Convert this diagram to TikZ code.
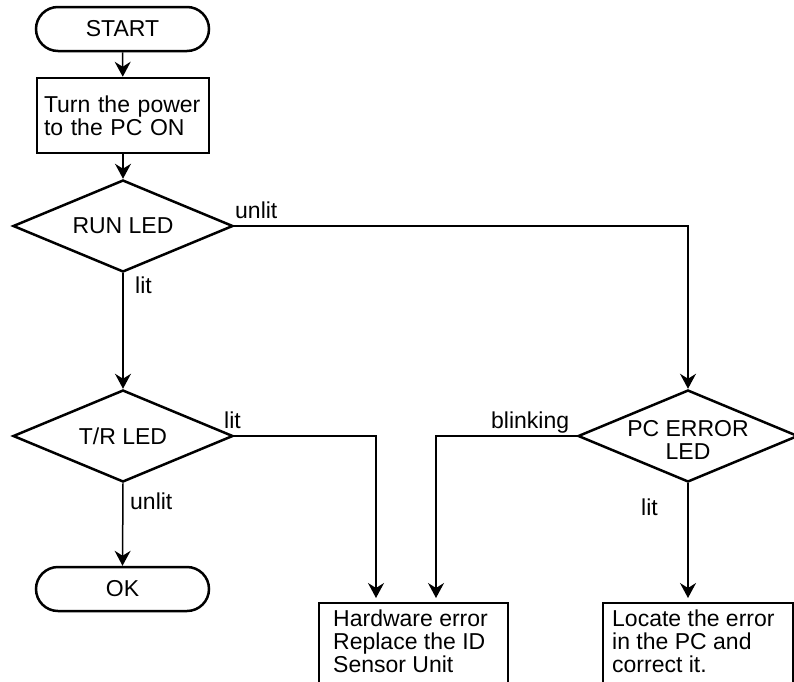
\documentclass[tikz,border=0pt]{standalone}
\usepackage{fontspec}
\setmainfont{Liberation Sans}
\usetikzlibrary{shapes.geometric,shapes.misc,arrows.meta}
\begin{document}
\begin{tikzpicture}[x=1pt,y=-1pt,
  every node/.style={font=\fontsize{23}{23}\selectfont},
  term/.style={draw, line width=2.5pt, rounded rectangle, minimum width=173pt, minimum height=44pt, inner sep=0pt},
  proc/.style={draw, line width=2.5pt, minimum width=172pt, minimum height=75pt, text width=158pt, inner xsep=7pt, align=left},
  dec/.style={draw, diamond, line width=2.5pt, minimum width=220pt, minimum height=92pt, aspect=2.39, inner sep=0pt, align=center},
  outbox/.style={draw, line width=1.5pt, minimum height=120pt, anchor=north west, inner sep=0pt},
  outtext/.style={anchor=north west, align=left, inner sep=0pt},
  conn/.style={line width=1.5pt, -{Stealth[length=15pt, width=16pt, inset=5pt]}},
  lab/.style={anchor=base west, inner sep=0pt}
]
\useasboundingbox (0,0) rectangle (794,681);
\clip (0,0) rectangle (794,681);

\node[term] (start) at (122.5,29) {START};
\node[proc] (power) at (123,115.5) {Turn the power\\to the PC ON};
\node[dec] (run) at (123,226) {RUN LED};
\node[dec] (tr) at (123,436) {T/R LED};
\node[term] (ok) at (122.5,589) {OK};
\node[dec] (pc) at (688,436) {};
\node[align=center, inner sep=0pt] (pctext) at (688,440) {PC ERROR\\LED};

\node[outbox, minimum width=189pt] (hw) at (318,602) {};
\node[outtext] (hwtext) at (333,610) {Hardware error\\Replace the ID\\Sensor Unit};
\node[outbox, minimum width=190pt] (loc) at (602,602) {};
\node[outtext] (loctext) at (612,610) {Locate the error\\in the PC and\\correct it.};

\coordinate (hw1) at ([xshift=58pt]hw.north west);
\coordinate (hw2) at ([xshift=118pt]hw.north west);

\draw[conn] (start) -- (power);
\draw[conn] (power) -- (run);
\draw[conn] (run.south) -- (tr.north);
\draw[conn] (tr.south) -- (ok.north);
\draw[conn] (run.east) -| (pc.north);
\draw[conn, shorten >=4pt] (tr.east) -| (hw1);
\draw[conn, shorten >=4pt] (pc.west) -| (hw2);
\draw[conn, shorten >=4pt] (pc.south) -- (pc.south |- loc.north);

\node[lab] (l1) at (235,218) {unlit};
\node[lab] (l2) at (135,293) {lit};
\node[lab] (l3) at (224,428) {lit};
\node[lab] (l4) at (130,509) {unlit};
\node[lab] (l5) at (491,428) {blinking};
\node[lab] (l6) at (641,515) {lit};
\end{tikzpicture}
\end{document}
